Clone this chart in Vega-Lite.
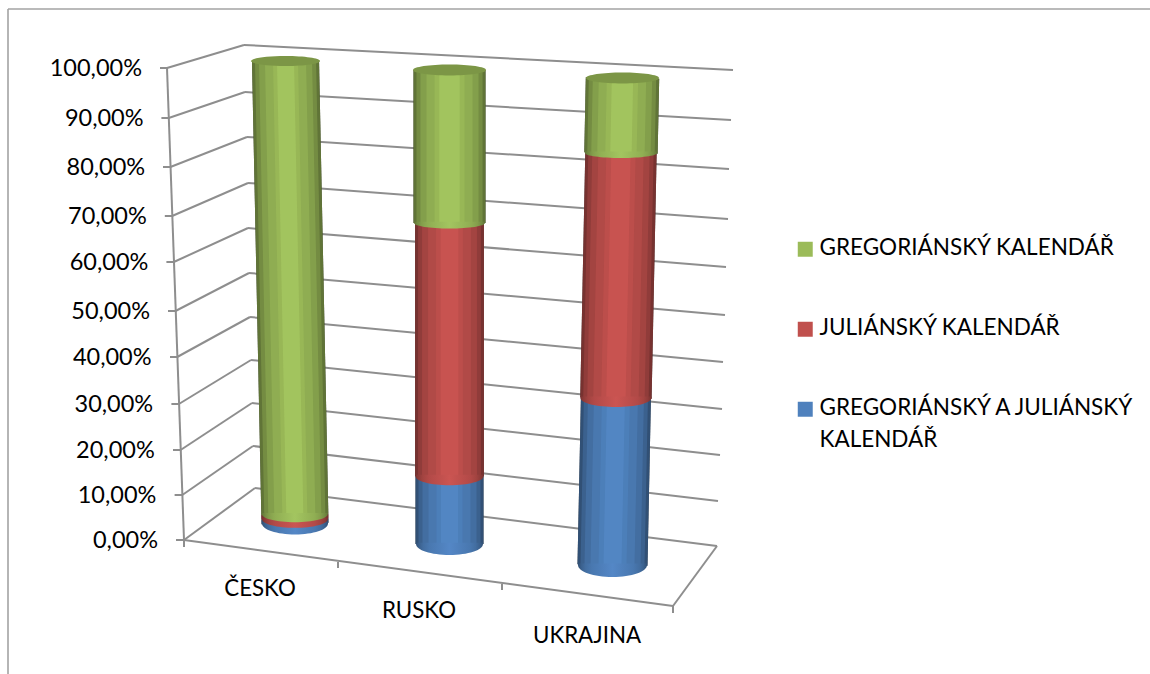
{"$schema":"https://vega.github.io/schema/vega-lite/v6.json","width":1150,"height":674,"padding":0,"autosize":{"type":"none"},"background":"white","config":{"view":{"stroke":null},"axis":{"disable":true},"font":"Lato","range":{"category":["#9bbb59","#c0504d","#4f81bd"]},"legend":{"labelFont":"Lato"}},
"datasets":{
"shares":[
{"country":"ČESKO","calendar":"GREGORIÁNSKÝ A JULIÁNSKÝ KALENDÁŘ","rank":1,"share":0.01},
{"country":"ČESKO","calendar":"JULIÁNSKÝ KALENDÁŘ","rank":2,"share":0.01},
{"country":"ČESKO","calendar":"GREGORIÁNSKÝ KALENDÁŘ","rank":3,"share":0.98},
{"country":"RUSKO","calendar":"GREGORIÁNSKÝ A JULIÁNSKÝ KALENDÁŘ","rank":1,"share":0.143},
{"country":"RUSKO","calendar":"JULIÁNSKÝ KALENDÁŘ","rank":2,"share":0.534},
{"country":"RUSKO","calendar":"GREGORIÁNSKÝ KALENDÁŘ","rank":3,"share":0.323},
{"country":"UKRAJINA","calendar":"GREGORIÁNSKÝ A JULIÁNSKÝ KALENDÁŘ","rank":1,"share":0.343},
{"country":"UKRAJINA","calendar":"JULIÁNSKÝ KALENDÁŘ","rank":2,"share":0.503},
{"country":"UKRAJINA","calendar":"GREGORIÁNSKÝ KALENDÁŘ","rank":3,"share":0.154}
],
"wireframe":[
{"a":0,"b":20},{"a":1,"b":21},{"a":2,"b":22},{"a":3,"b":23},{"a":4,"b":24},{"a":5,"b":25},{"a":6,"b":26},{"a":7,"b":27},{"a":8,"b":28},{"a":9,"b":29},{"a":10,"b":30},
{"a":20,"b":40},{"a":21,"b":41},{"a":22,"b":42},{"a":23,"b":43},{"a":24,"b":44},{"a":25,"b":45},{"a":26,"b":46},{"a":27,"b":47},{"a":28,"b":48},{"a":29,"b":49},{"a":30,"b":50},
{"a":60,"b":0},{"a":61,"b":1},{"a":62,"b":2},{"a":63,"b":3},{"a":64,"b":4},{"a":65,"b":5},{"a":66,"b":6},{"a":67,"b":7},{"a":68,"b":8},{"a":69,"b":9},{"a":70,"b":10},
{"a":0,"b":10},{"a":0,"b":100},{"a":100,"b":40},{"a":0,"b":101},{"a":100,"b":102},{"a":103,"b":104},{"a":105,"b":106}
],
"frame":[{"a":110,"b":111},{"a":110,"b":112}],
"captions":[
{"p":80,"t":"0,00%"},{"p":81,"t":"10,00%"},{"p":82,"t":"20,00%"},{"p":83,"t":"30,00%"},{"p":84,"t":"40,00%"},{"p":85,"t":"50,00%"},{"p":86,"t":"60,00%"},{"p":87,"t":"70,00%"},{"p":88,"t":"80,00%"},{"p":89,"t":"90,00%"},{"p":90,"t":"100,00%"}
],
"countries":[{"p":120,"t":"ČESKO"},{"p":121,"t":"RUSKO"},{"p":122,"t":"UKRAJINA"}]
},
"resolve":{"scale":{"x":"independent","y":"independent"}},
"layer":[
{"encoding":{},"layer":[
{"data":{"name":"frame"},"mark":{"type":"rule","color":"#a3a3a3","strokeWidth":1.6},
"encoding":{"x":{"field":"a","type":"quantitative","scale":{"domain":[110,111,112],"range":[8,1150,8]}},"x2":{"field":"b"},"y":{"field":"a","type":"quantitative","scale":{"domain":[110,111,112],"range":[9,9,674]}},"y2":{"field":"b"}}}
]},
{"encoding":{},"layer":[
{"data":{"name":"wireframe"},"mark":{"type":"rule","color":"#8e8e8e","strokeWidth":2},
"encoding":{"x":{"field":"a","type":"quantitative","scale":{"zero":false,"nice":false,"domain":[0,1,2,3,4,5,6,7,8,9,10,20,21,22,23,24,25,26,27,28,29,30,40,41,42,43,44,45,46,47,48,49,50,60,61,62,63,64,65,66,67,68,69,70,100,101,102,103,104,105,106],"range":[184,182.3,180.6,178.9,177.2,175.5,173.8,172.1,170.4,168.7,167,255,253,252,251,250,249,248,248,247,245,244,717,718,720,722,723,725,726,728,729,731,733,176,174.6,173,171.4,170,168,166.4,164.8,163,161.4,160,673,184,673,338,338,502,502]}},"x2":{"field":"b"},
"y":{"field":"a","type":"quantitative","scale":{"zero":false,"nice":false,"domain":[0,1,2,3,4,5,6,7,8,9,10,20,21,22,23,24,25,26,27,28,29,30,40,41,42,43,44,45,46,47,48,49,50,60,61,62,63,64,65,66,67,68,69,70,100,101,102,103,104,105,106],"range":[540,495,450,404,357,311,262,216,167,118,68,488,446,403,360,317,273,228,183,137,92,45,546,501,455,409,362,315,267,219,169,120,70,540,495,450,404,357,311,262,216,167,118,68,606,547,613,562,568,584,590]}},"y2":{"field":"b"}}}
]},
{"encoding":{},"layer":[
{"data":{"name":"captions"},"mark":{"type":"text","align":"right","baseline":"middle","font":"Lato","fontSize":23.5,"color":"#000000","dy":1},
"encoding":{"x":{"field":"p","type":"quantitative","scale":{"zero":false,"nice":false,"domain":[80,90],"range":[158,142]}},"y":{"field":"p","type":"quantitative","scale":{"zero":false,"nice":false,"domain":[80,81,82,83,84,85,86,87,88,89,90],"range":[540,495,450,404,357,311,262,216,167,118,68]}},"text":{"field":"t"}}}
]},
{"encoding":{},"layer":[
{"data":{"name":"countries"},"mark":{"type":"text","align":"center","baseline":"middle","font":"Lato","fontSize":22.3,"color":"#000000"},
"encoding":{"x":{"field":"p","type":"quantitative","scale":{"zero":false,"nice":false,"domain":[120,121,122],"range":[260,419,587]}},"y":{"field":"p","type":"quantitative","scale":{"zero":false,"nice":false,"domain":[120,121,122],"range":[589,611,636]}},"text":{"field":"t"}}}
]},
{"data":{"name":"shares"},
"transform":[{"filter":"datum.country==='ČESKO'"},{"stack":"share","groupby":["country"],"sort":[{"field":"rank"}],"as":["y0","y1"]}],
"resolve":{"scale":{"size":"independent"}},
"encoding":{"x":{"field":"y1","type":"quantitative","scale":{"domain":[0,1],"zero":false,"nice":false,"range":[295,285.5]}},"y":{"field":"y1","type":"quantitative","scale":{"domain":[0,1],"zero":false,"nice":false,"range":[523.5,61]}}},
"layer":[
{"mark":{"type":"rule","color":"#000000"},"encoding":{"x2":{"field":"y0"},"y2":{"field":"y0"},"size":{"field":"y0","type":"quantitative","legend":null,"scale":{"domain":[0,1],"zero":false,"nice":false,"range":[67,70]}}}},
{"mark":{"type":"rule","opacity":0.62},"encoding":{"x2":{"field":"y0"},"y2":{"field":"y0"},"color":{"field":"calendar","type":"nominal","title":null,"scale":{"domain":["GREGORIÁNSKÝ KALENDÁŘ","JULIÁNSKÝ KALENDÁŘ","GREGORIÁNSKÝ A JULIÁNSKÝ KALENDÁŘ"]},"legend":{"orient":"none","legendX":794,"legendY":238,"symbolType":"square","symbolSize":56,"symbolStrokeWidth":7.5,"symbolOpacity":1,"labelFontSize":22.5,"labelColor":"#000000","labelOffset":3,"rowPadding":42,"labelLimit":400,"labelExpr":"datum.label==='GREGORIÁNSKÝ A JULIÁNSKÝ KALENDÁŘ'?['GREGORIÁNSKÝ A JULIÁNSKÝ','KALENDÁŘ']:datum.label","encode":{"labels":{"update":{"lineHeight":{"value":32},"baseline":{"value":"top"},"dy":{"value":-12}}}}}},"size":{"field":"y0","type":"quantitative","legend":null,"scale":{"domain":[0,1],"zero":false,"nice":false,"range":[67,70]}}}},
{"mark":{"type":"rule","opacity":0.35},"encoding":{"x2":{"field":"y0"},"y2":{"field":"y0"},"color":{"field":"calendar","type":"nominal","scale":{"domain":["GREGORIÁNSKÝ KALENDÁŘ","JULIÁNSKÝ KALENDÁŘ","GREGORIÁNSKÝ A JULIÁNSKÝ KALENDÁŘ"]},"legend":null},"size":{"field":"y0","type":"quantitative","legend":null,"scale":{"domain":[0,1],"zero":false,"nice":false,"range":[61,64]}}}},
{"mark":{"type":"rule","opacity":0.4},"encoding":{"x2":{"field":"y0"},"y2":{"field":"y0"},"color":{"field":"calendar","type":"nominal","scale":{"domain":["GREGORIÁNSKÝ KALENDÁŘ","JULIÁNSKÝ KALENDÁŘ","GREGORIÁNSKÝ A JULIÁNSKÝ KALENDÁŘ"]},"legend":null},"size":{"field":"y0","type":"quantitative","legend":null,"scale":{"domain":[0,1],"zero":false,"nice":false,"range":[53,56]}}}},
{"mark":{"type":"rule","opacity":0.5},"encoding":{"x2":{"field":"y0"},"y2":{"field":"y0"},"color":{"field":"calendar","type":"nominal","scale":{"domain":["GREGORIÁNSKÝ KALENDÁŘ","JULIÁNSKÝ KALENDÁŘ","GREGORIÁNSKÝ A JULIÁNSKÝ KALENDÁŘ"]},"legend":null},"size":{"field":"y0","type":"quantitative","legend":null,"scale":{"domain":[0,1],"zero":false,"nice":false,"range":[41,44]}}}},
{"mark":{"type":"rule","opacity":0.7},"encoding":{"x2":{"field":"y0"},"y2":{"field":"y0"},"color":{"field":"calendar","type":"nominal","scale":{"domain":["GREGORIÁNSKÝ KALENDÁŘ","JULIÁNSKÝ KALENDÁŘ","GREGORIÁNSKÝ A JULIÁNSKÝ KALENDÁŘ"]},"legend":null},"size":{"field":"y0","type":"quantitative","legend":null,"scale":{"domain":[0,1],"zero":false,"nice":false,"range":[25,28]}}}},
{"transform":[{"filter":"datum.rank===1"}],"mark":{"type":"rule","color":"#5589c8","opacity":0.7},"encoding":{"x2":{"field":"y0"},"y2":{"field":"y0"},"size":{"field":"y0","type":"quantitative","legend":null,"scale":{"domain":[0,1],"zero":false,"nice":false,"range":[17,20]}}}},
{"transform":[{"filter":"datum.rank===2"}],"mark":{"type":"rule","color":"#cd5653","opacity":0.7},"encoding":{"x2":{"field":"y0"},"y2":{"field":"y0"},"size":{"field":"y0","type":"quantitative","legend":null,"scale":{"domain":[0,1],"zero":false,"nice":false,"range":[17,20]}}}},
{"transform":[{"filter":"datum.rank===3"}],"mark":{"type":"rule","color":"#a6c963","opacity":0.7},"encoding":{"x2":{"field":"y0"},"y2":{"field":"y0"},"size":{"field":"y0","type":"quantitative","legend":null,"scale":{"domain":[0,1],"zero":false,"nice":false,"range":[17,20]}}}},
{"transform":[{"filter":"datum.rank===1"}],"mark":{"type":"point","filled":true,"opacity":1,"strokeWidth":0,"size":4356,"shape":"M -1 -0.04 L -1 0 A 1 0.333 0 0 0 1 0 L 1 -0.04 Z","fill":{"gradient":"linear","x1":0,"y1":0,"x2":1,"y2":0,"stops":[{"offset":0,"color":"#315075"},{"offset":0.05,"color":"#3b618e"},{"offset":0.11,"color":"#436ea1"},{"offset":0.2,"color":"#4978b0"},{"offset":0.5,"color":"#5487c6"},{"offset":0.8,"color":"#4978b0"},{"offset":0.89,"color":"#436ea1"},{"offset":0.95,"color":"#3b618e"},{"offset":1,"color":"#315075"}]}},"encoding":{"x":{"field":"y0","type":"quantitative"},"y":{"field":"y0","type":"quantitative"}}},
{"transform":[{"filter":"datum.rank===2"}],"mark":{"type":"point","filled":true,"opacity":1,"strokeWidth":0,"size":4356,"shape":"M -1 -0.04 L -1 0 A 1 0.27 0 0 0 1 0 L 1 -0.04 Z","fill":{"gradient":"linear","x1":0,"y1":0,"x2":1,"y2":0,"stops":[{"offset":0,"color":"#773230"},{"offset":0.05,"color":"#903c3a"},{"offset":0.11,"color":"#a34441"},{"offset":0.2,"color":"#b34a48"},{"offset":0.5,"color":"#cb5552"},{"offset":0.8,"color":"#b34a48"},{"offset":0.89,"color":"#a34441"},{"offset":0.95,"color":"#903c3a"},{"offset":1,"color":"#773230"}]}},"encoding":{"x":{"field":"y0","type":"quantitative"},"y":{"field":"y0","type":"quantitative"}}},
{"transform":[{"filter":"datum.rank===3"}],"mark":{"type":"point","filled":true,"opacity":1,"strokeWidth":0,"size":4356,"shape":"M -1 -0.04 L -1 0 A 1 0.24 0 0 0 1 0 L 1 -0.04 Z","fill":{"gradient":"linear","x1":0,"y1":0,"x2":1,"y2":0,"stops":[{"offset":0,"color":"#607437"},{"offset":0.05,"color":"#748c43"},{"offset":0.11,"color":"#849f4c"},{"offset":0.2,"color":"#90ae53"},{"offset":0.5,"color":"#a3c560"},{"offset":0.8,"color":"#90ae53"},{"offset":0.89,"color":"#849f4c"},{"offset":0.95,"color":"#748c43"},{"offset":1,"color":"#607437"}]}},"encoding":{"x":{"field":"y0","type":"quantitative"},"y":{"field":"y0","type":"quantitative"}}},
{"transform":[{"filter":"datum.rank===3"}],"mark":{"type":"point","filled":true,"opacity":1,"strokeWidth":0,"size":4761,"shape":"M -1 0 A 1 0.145 0 1 0 1 0 A 1 0.145 0 1 0 -1 0 Z","fill":"#7c9646"}}
]},
{"data":{"name":"shares"},
"transform":[{"filter":"datum.country==='RUSKO'"},{"stack":"share","groupby":["country"],"sort":[{"field":"rank"}],"as":["y0","y1"]}],
"resolve":{"scale":{"size":"independent"}},
"encoding":{"x":{"field":"y1","type":"quantitative","scale":{"domain":[0,1],"zero":false,"nice":false,"range":[449.5,449.5]}},"y":{"field":"y1","type":"quantitative","scale":{"domain":[0,1],"zero":false,"nice":false,"range":[544,70]}}},
"layer":[
{"mark":{"type":"rule","color":"#000000"},"encoding":{"x2":{"field":"y0"},"y2":{"field":"y0"},"size":{"field":"y0","type":"quantitative","legend":null,"scale":{"domain":[0,1],"zero":false,"nice":false,"range":[68,74]}}}},
{"mark":{"type":"rule","opacity":0.62},"encoding":{"x2":{"field":"y0"},"y2":{"field":"y0"},"color":{"field":"calendar","type":"nominal","scale":{"domain":["GREGORIÁNSKÝ KALENDÁŘ","JULIÁNSKÝ KALENDÁŘ","GREGORIÁNSKÝ A JULIÁNSKÝ KALENDÁŘ"]},"legend":null},"size":{"field":"y0","type":"quantitative","legend":null,"scale":{"domain":[0,1],"zero":false,"nice":false,"range":[68,74]}}}},
{"mark":{"type":"rule","opacity":0.35},"encoding":{"x2":{"field":"y0"},"y2":{"field":"y0"},"color":{"field":"calendar","type":"nominal","scale":{"domain":["GREGORIÁNSKÝ KALENDÁŘ","JULIÁNSKÝ KALENDÁŘ","GREGORIÁNSKÝ A JULIÁNSKÝ KALENDÁŘ"]},"legend":null},"size":{"field":"y0","type":"quantitative","legend":null,"scale":{"domain":[0,1],"zero":false,"nice":false,"range":[62,68]}}}},
{"mark":{"type":"rule","opacity":0.4},"encoding":{"x2":{"field":"y0"},"y2":{"field":"y0"},"color":{"field":"calendar","type":"nominal","scale":{"domain":["GREGORIÁNSKÝ KALENDÁŘ","JULIÁNSKÝ KALENDÁŘ","GREGORIÁNSKÝ A JULIÁNSKÝ KALENDÁŘ"]},"legend":null},"size":{"field":"y0","type":"quantitative","legend":null,"scale":{"domain":[0,1],"zero":false,"nice":false,"range":[54,60]}}}},
{"mark":{"type":"rule","opacity":0.5},"encoding":{"x2":{"field":"y0"},"y2":{"field":"y0"},"color":{"field":"calendar","type":"nominal","scale":{"domain":["GREGORIÁNSKÝ KALENDÁŘ","JULIÁNSKÝ KALENDÁŘ","GREGORIÁNSKÝ A JULIÁNSKÝ KALENDÁŘ"]},"legend":null},"size":{"field":"y0","type":"quantitative","legend":null,"scale":{"domain":[0,1],"zero":false,"nice":false,"range":[42,48]}}}},
{"mark":{"type":"rule","opacity":0.7},"encoding":{"x2":{"field":"y0"},"y2":{"field":"y0"},"color":{"field":"calendar","type":"nominal","scale":{"domain":["GREGORIÁNSKÝ KALENDÁŘ","JULIÁNSKÝ KALENDÁŘ","GREGORIÁNSKÝ A JULIÁNSKÝ KALENDÁŘ"]},"legend":null},"size":{"field":"y0","type":"quantitative","legend":null,"scale":{"domain":[0,1],"zero":false,"nice":false,"range":[26,32]}}}},
{"transform":[{"filter":"datum.rank===1"}],"mark":{"type":"rule","color":"#5589c8","opacity":0.7},"encoding":{"x2":{"field":"y0"},"y2":{"field":"y0"},"size":{"field":"y0","type":"quantitative","legend":null,"scale":{"domain":[0,1],"zero":false,"nice":false,"range":[17,22]}}}},
{"transform":[{"filter":"datum.rank===2"}],"mark":{"type":"rule","color":"#cd5653","opacity":0.7},"encoding":{"x2":{"field":"y0"},"y2":{"field":"y0"},"size":{"field":"y0","type":"quantitative","legend":null,"scale":{"domain":[0,1],"zero":false,"nice":false,"range":[17,22]}}}},
{"transform":[{"filter":"datum.rank===3"}],"mark":{"type":"rule","color":"#a6c963","opacity":0.7},"encoding":{"x2":{"field":"y0"},"y2":{"field":"y0"},"size":{"field":"y0","type":"quantitative","legend":null,"scale":{"domain":[0,1],"zero":false,"nice":false,"range":[17,22]}}}},
{"transform":[{"filter":"datum.rank===1"}],"mark":{"type":"point","filled":true,"opacity":1,"strokeWidth":0,"size":4489,"shape":"M -1 -0.04 L -1 0 A 1 0.328 0 0 0 1 0 L 1 -0.04 Z","fill":{"gradient":"linear","x1":0,"y1":0,"x2":1,"y2":0,"stops":[{"offset":0,"color":"#315075"},{"offset":0.05,"color":"#3b618e"},{"offset":0.11,"color":"#436ea1"},{"offset":0.2,"color":"#4978b0"},{"offset":0.5,"color":"#5487c6"},{"offset":0.8,"color":"#4978b0"},{"offset":0.89,"color":"#436ea1"},{"offset":0.95,"color":"#3b618e"},{"offset":1,"color":"#315075"}]}},"encoding":{"x":{"field":"y0","type":"quantitative"},"y":{"field":"y0","type":"quantitative"}}},
{"transform":[{"filter":"datum.rank===2"}],"mark":{"type":"point","filled":true,"opacity":1,"strokeWidth":0,"size":4624,"shape":"M -1 -0.04 L -1 0 A 1 0.265 0 0 0 1 0 L 1 -0.04 Z","fill":{"gradient":"linear","x1":0,"y1":0,"x2":1,"y2":0,"stops":[{"offset":0,"color":"#773230"},{"offset":0.05,"color":"#903c3a"},{"offset":0.11,"color":"#a34441"},{"offset":0.2,"color":"#b34a48"},{"offset":0.5,"color":"#cb5552"},{"offset":0.8,"color":"#b34a48"},{"offset":0.89,"color":"#a34441"},{"offset":0.95,"color":"#903c3a"},{"offset":1,"color":"#773230"}]}},"encoding":{"x":{"field":"y0","type":"quantitative"},"y":{"field":"y0","type":"quantitative"}}},
{"transform":[{"filter":"datum.rank===3"}],"mark":{"type":"point","filled":true,"opacity":1,"strokeWidth":0,"size":5041,"shape":"M -1 -0.04 L -1 0 A 1 0.155 0 0 0 1 0 L 1 -0.04 Z","fill":{"gradient":"linear","x1":0,"y1":0,"x2":1,"y2":0,"stops":[{"offset":0,"color":"#607437"},{"offset":0.05,"color":"#748c43"},{"offset":0.11,"color":"#849f4c"},{"offset":0.2,"color":"#90ae53"},{"offset":0.5,"color":"#a3c560"},{"offset":0.8,"color":"#90ae53"},{"offset":0.89,"color":"#849f4c"},{"offset":0.95,"color":"#748c43"},{"offset":1,"color":"#607437"}]}},"encoding":{"x":{"field":"y0","type":"quantitative"},"y":{"field":"y0","type":"quantitative"}}},
{"transform":[{"filter":"datum.rank===3"}],"mark":{"type":"point","filled":true,"opacity":1,"strokeWidth":0,"size":5329,"shape":"M -1 0 A 1 0.15 0 1 0 1 0 A 1 0.15 0 1 0 -1 0 Z","fill":"#7c9646"}}
]},
{"data":{"name":"shares"},
"transform":[{"filter":"datum.country==='UKRAJINA'"},{"stack":"share","groupby":["country"],"sort":[{"field":"rank"}],"as":["y0","y1"]}],
"resolve":{"scale":{"size":"independent"}},
"encoding":{"x":{"field":"y1","type":"quantitative","scale":{"domain":[0,1],"zero":false,"nice":false,"range":[612.5,622.5]}},"y":{"field":"y1","type":"quantitative","scale":{"domain":[0,1],"zero":false,"nice":false,"range":[565,78]}}},
"layer":[
{"mark":{"type":"rule","color":"#000000"},"encoding":{"x2":{"field":"y0"},"y2":{"field":"y0"},"size":{"field":"y0","type":"quantitative","legend":null,"scale":{"domain":[0,1],"zero":false,"nice":false,"range":[70,74]}}}},
{"mark":{"type":"rule","opacity":0.62},"encoding":{"x2":{"field":"y0"},"y2":{"field":"y0"},"color":{"field":"calendar","type":"nominal","scale":{"domain":["GREGORIÁNSKÝ KALENDÁŘ","JULIÁNSKÝ KALENDÁŘ","GREGORIÁNSKÝ A JULIÁNSKÝ KALENDÁŘ"]},"legend":null},"size":{"field":"y0","type":"quantitative","legend":null,"scale":{"domain":[0,1],"zero":false,"nice":false,"range":[70,74]}}}},
{"mark":{"type":"rule","opacity":0.35},"encoding":{"x2":{"field":"y0"},"y2":{"field":"y0"},"color":{"field":"calendar","type":"nominal","scale":{"domain":["GREGORIÁNSKÝ KALENDÁŘ","JULIÁNSKÝ KALENDÁŘ","GREGORIÁNSKÝ A JULIÁNSKÝ KALENDÁŘ"]},"legend":null},"size":{"field":"y0","type":"quantitative","legend":null,"scale":{"domain":[0,1],"zero":false,"nice":false,"range":[64,68]}}}},
{"mark":{"type":"rule","opacity":0.4},"encoding":{"x2":{"field":"y0"},"y2":{"field":"y0"},"color":{"field":"calendar","type":"nominal","scale":{"domain":["GREGORIÁNSKÝ KALENDÁŘ","JULIÁNSKÝ KALENDÁŘ","GREGORIÁNSKÝ A JULIÁNSKÝ KALENDÁŘ"]},"legend":null},"size":{"field":"y0","type":"quantitative","legend":null,"scale":{"domain":[0,1],"zero":false,"nice":false,"range":[56,60]}}}},
{"mark":{"type":"rule","opacity":0.5},"encoding":{"x2":{"field":"y0"},"y2":{"field":"y0"},"color":{"field":"calendar","type":"nominal","scale":{"domain":["GREGORIÁNSKÝ KALENDÁŘ","JULIÁNSKÝ KALENDÁŘ","GREGORIÁNSKÝ A JULIÁNSKÝ KALENDÁŘ"]},"legend":null},"size":{"field":"y0","type":"quantitative","legend":null,"scale":{"domain":[0,1],"zero":false,"nice":false,"range":[44,48]}}}},
{"mark":{"type":"rule","opacity":0.7},"encoding":{"x2":{"field":"y0"},"y2":{"field":"y0"},"color":{"field":"calendar","type":"nominal","scale":{"domain":["GREGORIÁNSKÝ KALENDÁŘ","JULIÁNSKÝ KALENDÁŘ","GREGORIÁNSKÝ A JULIÁNSKÝ KALENDÁŘ"]},"legend":null},"size":{"field":"y0","type":"quantitative","legend":null,"scale":{"domain":[0,1],"zero":false,"nice":false,"range":[28,32]}}}},
{"transform":[{"filter":"datum.rank===1"}],"mark":{"type":"rule","color":"#5589c8","opacity":0.7},"encoding":{"x2":{"field":"y0"},"y2":{"field":"y0"},"size":{"field":"y0","type":"quantitative","legend":null,"scale":{"domain":[0,1],"zero":false,"nice":false,"range":[18,22]}}}},
{"transform":[{"filter":"datum.rank===2"}],"mark":{"type":"rule","color":"#cd5653","opacity":0.7},"encoding":{"x2":{"field":"y0"},"y2":{"field":"y0"},"size":{"field":"y0","type":"quantitative","legend":null,"scale":{"domain":[0,1],"zero":false,"nice":false,"range":[18,22]}}}},
{"transform":[{"filter":"datum.rank===3"}],"mark":{"type":"rule","color":"#a6c963","opacity":0.7},"encoding":{"x2":{"field":"y0"},"y2":{"field":"y0"},"size":{"field":"y0","type":"quantitative","legend":null,"scale":{"domain":[0,1],"zero":false,"nice":false,"range":[18,22]}}}},
{"transform":[{"filter":"datum.rank===1"}],"mark":{"type":"point","filled":true,"opacity":1,"strokeWidth":0,"size":4761,"shape":"M -1 -0.04 L -1 0 A 1 0.348 0 0 0 1 0 L 1 -0.04 Z","fill":{"gradient":"linear","x1":0,"y1":0,"x2":1,"y2":0,"stops":[{"offset":0,"color":"#315075"},{"offset":0.05,"color":"#3b618e"},{"offset":0.11,"color":"#436ea1"},{"offset":0.2,"color":"#4978b0"},{"offset":0.5,"color":"#5487c6"},{"offset":0.8,"color":"#4978b0"},{"offset":0.89,"color":"#436ea1"},{"offset":0.95,"color":"#3b618e"},{"offset":1,"color":"#315075"}]}},"encoding":{"x":{"field":"y0","type":"quantitative"},"y":{"field":"y0","type":"quantitative"}}},
{"transform":[{"filter":"datum.rank===2"}],"mark":{"type":"point","filled":true,"opacity":1,"strokeWidth":0,"size":5041,"shape":"M -1 -0.04 L -1 0 A 1 0.254 0 0 0 1 0 L 1 -0.04 Z","fill":{"gradient":"linear","x1":0,"y1":0,"x2":1,"y2":0,"stops":[{"offset":0,"color":"#773230"},{"offset":0.05,"color":"#903c3a"},{"offset":0.11,"color":"#a34441"},{"offset":0.2,"color":"#b34a48"},{"offset":0.5,"color":"#cb5552"},{"offset":0.8,"color":"#b34a48"},{"offset":0.89,"color":"#a34441"},{"offset":0.95,"color":"#903c3a"},{"offset":1,"color":"#773230"}]}},"encoding":{"x":{"field":"y0","type":"quantitative"},"y":{"field":"y0","type":"quantitative"}}},
{"transform":[{"filter":"datum.rank===3"}],"mark":{"type":"point","filled":true,"opacity":1,"strokeWidth":0,"size":5184,"shape":"M -1 -0.04 L -1 0 A 1 0.139 0 0 0 1 0 L 1 -0.04 Z","fill":{"gradient":"linear","x1":0,"y1":0,"x2":1,"y2":0,"stops":[{"offset":0,"color":"#607437"},{"offset":0.05,"color":"#748c43"},{"offset":0.11,"color":"#849f4c"},{"offset":0.2,"color":"#90ae53"},{"offset":0.5,"color":"#a3c560"},{"offset":0.8,"color":"#90ae53"},{"offset":0.89,"color":"#849f4c"},{"offset":0.95,"color":"#748c43"},{"offset":1,"color":"#607437"}]}},"encoding":{"x":{"field":"y0","type":"quantitative"},"y":{"field":"y0","type":"quantitative"}}},
{"transform":[{"filter":"datum.rank===3"}],"mark":{"type":"point","filled":true,"opacity":1,"strokeWidth":0,"size":5329,"shape":"M -1 0 A 1 0.15 0 1 0 1 0 A 1 0.15 0 1 0 -1 0 Z","fill":"#7c9646"}}
]}
]}
